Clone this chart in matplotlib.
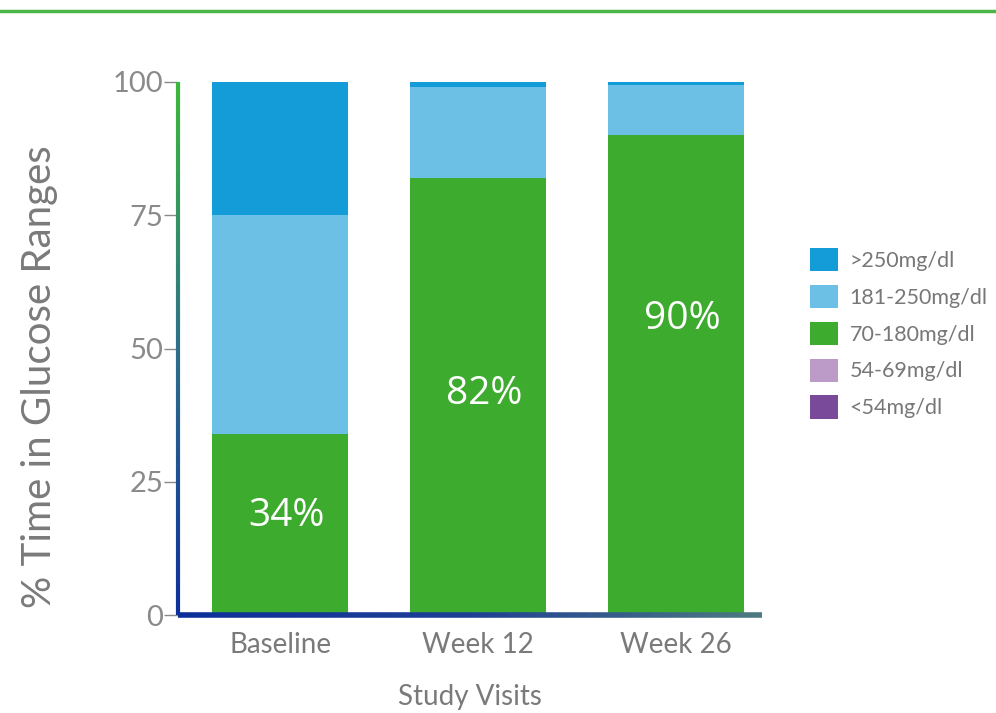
import numpy as np
import matplotlib
matplotlib.use("Agg")
from matplotlib import pyplot as plt
from matplotlib.collections import LineCollection
from matplotlib.colors import LinearSegmentedColormap
from matplotlib.patches import Patch

visits = ["Baseline", "Week 12", "Week 26"]
ranges = [">250mg/dl", "181-250mg/dl", "70-180mg/dl", "54-69mg/dl", "<54mg/dl"]
colors = ["#139cd8", "#6cc0e6", "#3dab2d", "#bd9bc9", "#7a4a9a"]

# stacked from the bottom: <54, 54-69, 70-180, 181-250, >250
below_54 = [0, 0, 0]
from_54_69 = [0, 0, 0]
from_70_180 = [34, 82, 90]
from_181_250 = [41, 17, 9.5]
above_250 = [25, 1, 0.5]
pct_labels = ["34%", "82%", "90%"]
pct_label_y = [18.5, 41.5, 55.5]

plt.rcParams["font.family"] = ["Lato", "DejaVu Sans"]

fig = plt.figure(figsize=(9.96, 7.13), dpi=100)
ax = fig.add_axes([0.179, 0.1374, 0.586, 0.7476])

x = np.arange(len(visits))
width = 0.69
bottom = np.zeros(len(visits))
stack = [below_54, from_54_69, from_70_180, from_181_250, above_250]
stack_colors = colors[::-1]
for vals, c in zip(stack, stack_colors):
    vals = np.array(vals, dtype=float)
    ax.bar(x, vals, width, bottom=bottom, color=c, edgecolor="none", zorder=2)
    bottom += vals

for xi, lab, yy in zip(x, pct_labels, pct_label_y):
    ax.text(xi + 0.03, yy, lab, color="white", ha="center", va="center",
            fontsize=28, family=["Open Sans", "DejaVu Sans"], zorder=3)

ax.set_xlim(-0.515, 2.434)
ax.set_ylim(0, 100)
ax.set_yticks([0, 25, 50, 75, 100])
ax.set_xticks(x)
ax.set_xticklabels(visits)
ax.tick_params(axis="y", colors="#8a8a8a", labelsize=21, length=10, width=1, pad=1)
ax.tick_params(axis="x", colors="#7a7a7a", labelsize=20, length=0, pad=12)
for s in ax.spines.values():
    s.set_visible(False)

fig.text(40 / 996, 1 - 377 / 713, "% Time in Glucose Ranges", rotation=90,
         ha="center", va="center", fontsize=29, color="#7a7a7a")
fig.text(470 / 996, 1 - 697 / 713, "Study Visits", ha="center", va="center",
         fontsize=20, color="#7a7a7a")

# gradient spines
n = 200
yv = np.linspace(0, 100, n)
pts = np.array([np.full(n, -0.515), yv]).T.reshape(-1, 1, 2)
segs = np.concatenate([pts[:-1], pts[1:]], axis=1)
ycmap = LinearSegmentedColormap.from_list("ysp", ["#0d2f9a", "#2e6f8a", "#3cb83a"])
lc = LineCollection(segs, cmap=ycmap, linewidths=3, zorder=4, clip_on=False)
lc.set_array(yv[:-1])
ax.add_collection(lc)

xv = np.linspace(-0.515, 2.434, n)
pts = np.array([xv, np.zeros(n)]).T.reshape(-1, 1, 2)
segs = np.concatenate([pts[:-1], pts[1:]], axis=1)
xcmap = LinearSegmentedColormap.from_list("xsp", ["#0d2f9a", "#1e3f95", "#4d7a80"])
lc2 = LineCollection(segs, cmap=xcmap, linewidths=4, zorder=4, clip_on=False)
lc2.set_array(xv[:-1])
ax.add_collection(lc2)

# top rule
fig.add_artist(plt.Line2D([0, 1], [1 - 11 / 713, 1 - 11 / 713], color="#4cb548",
                          linewidth=2.5, transform=fig.transFigure))

handles = [Patch(facecolor=c, edgecolor="none") for c in colors]
fig.legend(handles, ranges, loc="upper left", bbox_to_anchor=(0.805, 0.664),
           frameon=False, fontsize=15.5, labelcolor="#777777",
           handlelength=1.27, handleheight=1.27, handletextpad=0.55,
           labelspacing=0.64, borderaxespad=0)

fig.savefig("out.png", dpi=100)
